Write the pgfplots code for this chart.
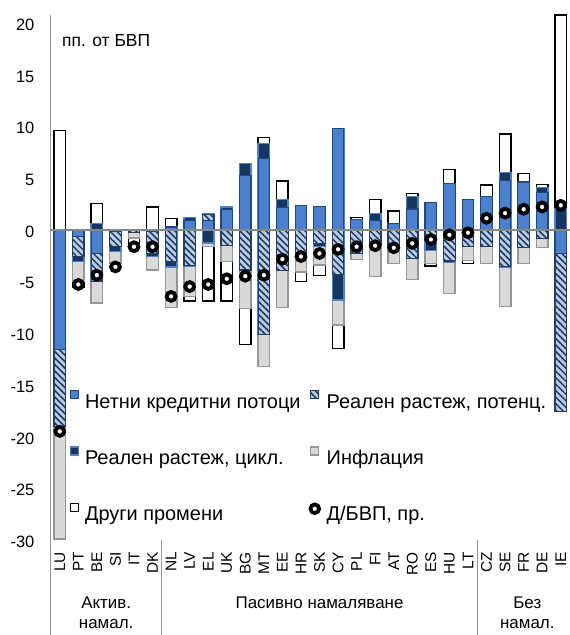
\documentclass[border=0pt]{standalone}
\usepackage{fontspec}
\setmainfont{Liberation Sans}
\usepackage{pgfplots}
\pgfplotsset{compat=1.18}
\usepackage{pgfplotstable}
\usetikzlibrary{patterns.meta}

\definecolor{netniF}{RGB}{76,128,204}
\definecolor{netniB}{RGB}{31,73,125}
\definecolor{potF}{RGB}{185,205,229}
\definecolor{potL}{RGB}{31,56,100}
\definecolor{potB}{RGB}{40,60,95}
\definecolor{ciklF}{RGB}{23,54,93}
\definecolor{ciklB}{RGB}{79,129,200}
\definecolor{inflF}{RGB}{217,217,217}
\definecolor{inflB}{RGB}{150,150,150}
\definecolor{axgray}{RGB}{150,150,150}
\definecolor{zerogray}{RGB}{135,135,135}

\pgfplotstableread{
x n p c i o d
0 -11.6 -7.4 0 -10.9 9.6 -19.5
1 -0.7 -1.9 -0.5 -1.9 -0.6 -5.3
2 -2.3 -2.7 0.6 -2.1 1.9 -4.4
3 -0.2 -1.45 -0.45 -1.2 0 -3.6
4 -0.1 -0.2 0 -0.5 -0.8 -1.65
5 -0.2 -2.1 -0.3 -1.3 2.2 -1.65
6 0.25 -3.1 -0.5 -3.95 0.85 -6.45
7 0.9 -3.5 0.3 -2.95 -0.45 -5.5
8 0.9 0.6 -1.3 -0.35 -5.25 -5.3
9 1.95 -1.5 0.25 -1.6 -3.8 -4.75
10 5.2 -3.9 1.2 -3.7 -3.5 -4.5
11 6.85 -10.1 1.45 -3.1 0.6 -4.4
12 2.15 -3.95 0.75 -3.55 1.8 -2.85
13 2.35 -2.6 0 -1.5 -0.9 -2.6
14 2.2 -1.3 -0.35 -1.75 -1.05 -2.3
15 9.8 -4.3 -2.5 -2.4 -2.3 -1.9
16 1.0 -2.3 0 -0.57 0.15 -1.65
17 0.9 -1.5 0.65 -3.05 1.35 -1.55
18 0.6 -1.6 0 -1.65 1.2 -1.75
19 2.0 -2.8 1.2 -2.0 0.3 -1.33
20 2.6 -1.0 -1.0 -1.25 -0.25 -0.95
21 4.45 -3.0 -0.15 -3.0 1.35 -0.5
22 2.9 -1.65 0 -1.35 -0.25 -0.3
23 3.2 -1.65 0 -1.6 1.1 1.1
24 4.75 -3.6 0.8 -3.8 3.7 1.6
25 4.6 -1.7 0 -1.55 0.8 1.97
26 3.6 -0.85 0.5 -0.85 0.25 2.2
27 -2.3 -15.3 2.0 0 18.75 2.35
}\data

\pgfplotsset{
  netni/.style={draw=netniB, fill=netniF, line width=1.2bp},
  poten/.style={draw=potB, fill=potF, line width=1.2bp,
    postaction={pattern={Lines[angle=-45,distance=4.6bp,line width=1.5bp]}, pattern color=potL}},
  cikl/.style={draw=ciklB, fill=ciklF, line width=1.4bp},
  infl/.style={draw=inflB, fill=inflF, line width=1.4bp},
  drugi/.style={draw=black, fill=white, line width=1.4bp},
  mybar/.style={ybar, bar width=0.62, bar shift=0pt, forget plot},
  legbox/.style={legend image code/.code={\draw[##1] (0bp,4.5bp) rectangle (8bp,12.5bp);}},
  legcirc/.style={legend image code/.code={\draw[black, fill=white, line width=3.8bp] (4bp,7bp) circle (4.3bp);}},
}

\begin{document}
\begin{tikzpicture}
\useasboundingbox (0,0) rectangle (570bp,635bp);
\begin{axis}[
  at={(50.5bp,95bp)}, anchor=south west,
  scale only axis, width=519.5bp, height=525bp,
  xmin=-0.5, xmax=27.5, ymin=-30, ymax=20.75,
  clip=false,
  axis lines*=left,
  x axis line style={draw=none},
  y axis line style={draw=axgray, line width=1.3bp},
  major tick length=0pt,
  tick style={draw=none},
  xtick={0,...,27},
  xticklabels={LU,PT,BE,SI,IT,DK,NL,LV,EL,UK,BG,MT,EE,HR,SK,CY,PL,FI,AT,RO,ES,HU,LT,CZ,SE,FR,DE,IE},
  xticklabel style={font=\fontsize{15.5}{17}\selectfont, yshift=-12bp, rotate=90, anchor=east, inner sep=0pt},
  ytick={-30,-25,-20,-15,-10,-5,0,5,10,15,20},
  yticklabels={-30,-25,-20,-15,-10,-5,0,5,10,15,20},
  yticklabel style={font=\fontsize{16.5}{18}\selectfont, anchor=east, inner sep=0pt, xshift=-16bp, yshift=-2bp},
  legend columns=2,
  legend cell align=left,
  legend style={at={(rel axis cs:0.037,0.2856)}, anchor=north west, draw=none, fill=none,
    inner sep=0pt, row sep=33.5bp,
    font=\fontsize{20}{24}\selectfont,
    nodes={inner sep=0pt, text height=14.5bp, text depth=4.5bp},
    /tikz/every odd column/.append style={column sep=5.7bp},
    /tikz/every even column/.append style={column sep=8bp}},
]
% positive stack (outermost first)
\addplot[mybar, drugi] table[x=x, y expr={max(\thisrow{n},0)+max(\thisrow{p},0)+max(\thisrow{c},0)+max(\thisrow{i},0)+max(\thisrow{o},0)}] {\data};
\addplot[mybar, infl] table[x=x, y expr={max(\thisrow{n},0)+max(\thisrow{p},0)+max(\thisrow{c},0)+max(\thisrow{i},0)}] {\data};
\addplot[mybar, cikl] table[x=x, y expr={max(\thisrow{n},0)+max(\thisrow{p},0)+max(\thisrow{c},0)}] {\data};
\addplot[mybar, poten] table[x=x, y expr={max(\thisrow{n},0)+max(\thisrow{p},0)}] {\data};
\addplot[mybar, netni] table[x=x, y expr={max(\thisrow{n},0)}] {\data};
% negative stack (outermost first)
\addplot[mybar, drugi] table[x=x, y expr={min(\thisrow{n},0)+min(\thisrow{p},0)+min(\thisrow{c},0)+min(\thisrow{i},0)+min(\thisrow{o},0)}] {\data};
\addplot[mybar, infl] table[x=x, y expr={min(\thisrow{n},0)+min(\thisrow{p},0)+min(\thisrow{c},0)+min(\thisrow{i},0)}] {\data};
\addplot[mybar, cikl] table[x=x, y expr={min(\thisrow{n},0)+min(\thisrow{p},0)+min(\thisrow{c},0)}] {\data};
\addplot[mybar, poten] table[x=x, y expr={min(\thisrow{n},0)+min(\thisrow{p},0)}] {\data};
\addplot[mybar, netni] table[x=x, y expr={min(\thisrow{n},0)}] {\data};

\draw[zerogray, line width=1.8bp] (axis cs:-0.5,0) -- (axis cs:27.5,0);

\addplot[only marks, mark=*, mark size=4.4bp, mark options={fill=white, draw=black, line width=3.9bp}, forget plot] table[x=x, y=d] {\data};

\addlegendimage{legbox, netni}
\addlegendentry{Нетни кредитни потоци}
\addlegendimage{legbox, poten}
\addlegendentry{Реален растеж, потенц.}
\addlegendimage{legbox, cikl}
\addlegendentry{Реален растеж, цикл.}
\addlegendimage{legbox, infl}
\addlegendentry{Инфлация}
\addlegendimage{legbox, drugi}
\addlegendentry{Други промени}
\addlegendimage{legcirc}
\addlegendentry{Д/БВП, пр.}

\node[anchor=west, font=\fontsize{17.5}{20}\selectfont, inner sep=0pt] at (axis cs:0.12,18.3) {пп. от БВП};

% group separators and labels
\draw[axgray, line width=1.3bp] (axis cs:-0.5,-30) -- (axis cs:-0.5,-39.2);
\draw[axgray, line width=1.3bp] (axis cs:5.5,-30) -- (axis cs:5.5,-39.2);
\draw[axgray, line width=1.3bp] (axis cs:22.5,-30) -- (axis cs:22.5,-39.2);
\node[align=center, font=\fontsize{17}{20}\selectfont, inner sep=0pt] at (axis cs:2.5,-37.0) {Актив.\\намал.};
\node[font=\fontsize{17}{20}\selectfont, inner sep=0pt] at (axis cs:14,-36.05) {Пасивно намаляване};
\node[align=center, font=\fontsize{17}{20}\selectfont, inner sep=0pt] at (axis cs:25.2,-37.0) {Без\\намал.};
\end{axis}
\end{tikzpicture}
\end{document}
